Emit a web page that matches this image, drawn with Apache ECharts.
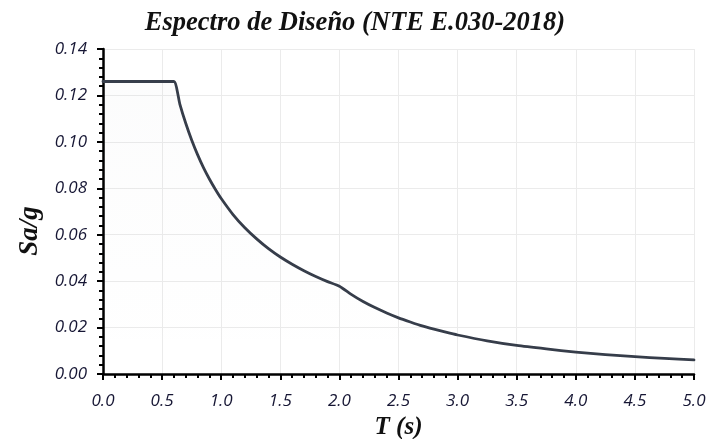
<!DOCTYPE html>
<html>
<head>
<meta charset="utf-8">
<script src="https://cdn.jsdelivr.net/npm/echarts@6/dist/echarts.min.js"></script>
<style>
  html, body { margin: 0; padding: 0; background: #ffffff; }
  #chart { width: 710px; height: 439px; }
</style>
</head>
<body>
<div id="chart"></div>
<script>
// Periodo T (s) y aceleración espectral Sa/g
const periods = [
  0.0, 0.1, 0.2, 0.3, 0.4, 0.5, 0.6, 0.65, 0.7, 0.75, 0.8, 0.85, 0.9, 0.95,
  1.0, 1.1, 1.2, 1.3, 1.4, 1.5, 1.6, 1.7, 1.8, 1.9, 2.0,
  2.1, 2.2, 2.3, 2.4, 2.5, 2.6, 2.7, 2.8, 2.9, 3.0,
  3.25, 3.5, 3.75, 4.0, 4.25, 4.5, 4.75, 5.0
];
const saValues = [
  0.126, 0.126, 0.126, 0.126, 0.126, 0.126, 0.126, 0.1163, 0.1080, 0.1008, 0.0945, 0.0889, 0.0840, 0.0796,
  0.0756, 0.0687, 0.0630, 0.0582, 0.0540, 0.0504, 0.0473, 0.0445, 0.0420, 0.0398, 0.0378,
  0.0343, 0.0312, 0.0286, 0.0263, 0.0242, 0.0224, 0.0207, 0.0193, 0.0180, 0.0168,
  0.0143, 0.0123, 0.0108, 0.00945, 0.00837, 0.00747, 0.00670, 0.00605
];
const titleText = 'Espectro de Diseño (NTE E.030-2018)';
const xName = 'T (s)';
const yName = 'Sa/g';

const chart = echarts.init(document.getElementById('chart'), null, { renderer: 'canvas' });

const serifBold = {
  fontFamily: 'Liberation Serif',
  fontStyle: 'italic',
  fontWeight: 'bold',
  color: '#111111'
};
const tickLabel = {
  fontFamily: 'Open Sans',
  fontStyle: 'italic',
  fontSize: 17,
  color: '#161634'
};

chart.setOption({
  animation: false,
  backgroundColor: '#ffffff',
  title: {
    text: titleText,
    left: 'center',
    top: 5,
    textStyle: Object.assign({ fontSize: 26.5 }, serifBold)
  },
  grid: { left: 103, right: 16, top: 49, bottom: 65, containLabel: false, outerBoundsMode: 'none' },
  xAxis: {
    type: 'value',
    min: 0,
    max: 5,
    interval: 0.5,
    name: xName,
    nameLocation: 'middle',
    nameGap: 41,
    nameTextStyle: Object.assign({ fontSize: 25 }, serifBold),
    axisLine: { show: true, onZero: false, lineStyle: { color: '#000000', width: 2.5 } },
    axisTick: { show: true, inside: false, length: 6, lineStyle: { color: '#000000', width: 2 } },
    minorTick: { show: true, splitNumber: 5, length: 4, lineStyle: { color: '#000000', width: 2 } },
    axisLabel: Object.assign({ margin: 19, formatter: v => v.toFixed(1) }, tickLabel),
    splitLine: { show: true, lineStyle: { color: '#ebebeb', width: 1 } }
  },
  yAxis: {
    type: 'value',
    min: 0,
    max: 0.14,
    interval: 0.02,
    axisLine: { show: true, onZero: false, lineStyle: { color: '#000000', width: 2.5 } },
    axisTick: { show: true, inside: false, length: 6, lineStyle: { color: '#000000', width: 2 } },
    minorTick: { show: true, splitNumber: 5, length: 4, lineStyle: { color: '#000000', width: 2 } },
    axisLabel: Object.assign({ margin: 16, formatter: v => v.toFixed(2) }, tickLabel),
    splitLine: { show: true, lineStyle: { color: '#ebebeb', width: 1 } }
  },
  graphic: [{
    type: 'text',
    x: 30,
    y: 231,
    rotation: Math.PI / 2,
    style: {
      text: yName,
      fontSize: 27,
      fontFamily: 'Liberation Serif',
      fontStyle: 'italic',
      fontWeight: 'bold',
      fill: '#111111',
      align: 'center',
      verticalAlign: 'middle'
    }
  }],
  series: [{
    type: 'line',
    data: periods.map((t, i) => [t, saValues[i]]),
    showSymbol: false,
    smooth: 0.2,
    lineStyle: { color: '#363d4a', width: 2.8, join: 'round', cap: 'round' },
    areaStyle: {
      color: new echarts.graphic.LinearGradient(0, 0, 0, 1, [
        { offset: 0, color: 'rgba(60,70,90,0.025)' },
        { offset: 1, color: 'rgba(60,70,90,0.0)' }
      ])
    }
  }]
});
</script>
</body>
</html>
